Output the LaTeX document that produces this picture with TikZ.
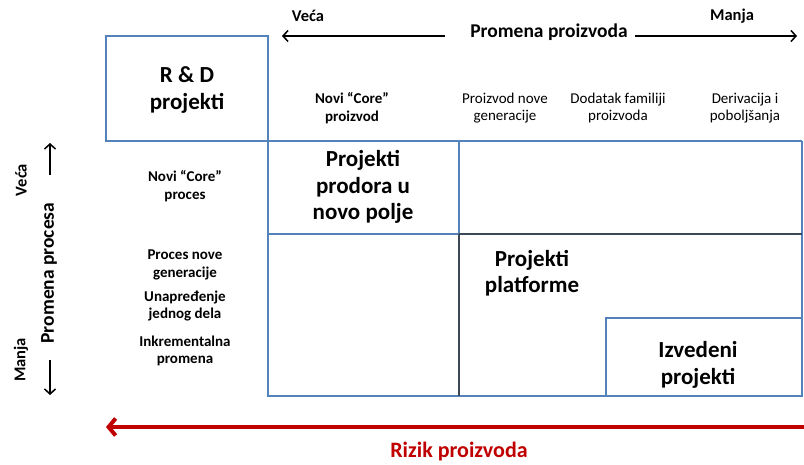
\documentclass[tikz,border=0pt]{standalone}
\usepackage{fontspec}
\setmainfont{Carlito}
\usetikzlibrary{arrows.meta}
\definecolor{gridblue}{RGB}{84,130,186}
\definecolor{griddark}{RGB}{60,72,88}
\definecolor{riskred}{RGB}{192,0,0}
\tikzset{
 bigtxt/.style={font=\bfseries\fontsize{23}{26.5}\selectfont, align=center, inner sep=0pt},
 smalltxt/.style={font=\fontsize{15}{17}\selectfont, align=center, inner sep=0pt},
 smallbold/.style={font=\bfseries\fontsize{15}{17.5}\selectfont, align=center, inner sep=0pt},
 axistxt/.style={font=\bfseries\fontsize{19.5}{22}\selectfont, inner sep=0pt},
 endtxt/.style={font=\bfseries\fontsize{16.5}{19}\selectfont, inner sep=0pt},
 blueline/.style={draw=gridblue, line width=1.2pt},
 darkline/.style={draw=griddark, line width=1.5pt},
 axisarrow/.style={-{Straight Barb[length=5pt,width=11pt]}, line width=1.5pt},
}
\begin{document}
\begin{tikzpicture}[x=1pt,y=-1pt]
\useasboundingbox[fill=white] (0,0) rectangle (804,465);
% grid
\draw[blueline] (106,36) rectangle (268,141);
\draw[blueline] (268,141) -- (802,141);
\draw[blueline] (268,141) -- (268,396) -- (606,396);
\draw[blueline] (459,141) -- (459,234);
\draw[blueline] (268,234) -- (459,234);
\draw[blueline] (802,141) -- (802,318);
\draw[darkline] (459,234) -- (802,234);
\draw[darkline] (459,234) -- (459,396);
\draw[blueline] (606,318) rectangle (802,396);
% cell titles
\node[bigtxt] (rd) at (187,90) {R \& D\\projekti};
\node[bigtxt] (prodor) at (363,187) {Projekti\\prodora u\\novo polje};
\node[bigtxt] (platf) at (532,273) {Projekti\\platforme};
\node[bigtxt] (izved) at (698,365) {Izvedeni\\projekti};
% column labels
\node[smallbold] (c1) at (352,108) {Novi “Core”\\proizvod};
\node[smalltxt] (c2) at (505,108) {Proizvod nove\\generacije};
\node[smalltxt] (c3) at (618,108) {Dodatak familiji\\proizvoda};
\node[smalltxt] (c4) at (745,108) {Derivacija i\\poboljšanja};
% row labels
\node[smallbold] (r1) at (185,186) {Novi “Core”\\proces};
\node[smallbold] (r2) at (185,265) {Proces nove\\generacije};
\node[smallbold] (r3) at (185,306) {Unapređenje\\jednog dela};
\node[smallbold] (r4) at (185,351) {Inkrementalna\\promena};
% top axis
\node[axistxt] (pp) at (549,32) {Promena proizvoda};
\node[endtxt] (veca1) at (308,16) {Veća};
\node[endtxt] (manja1) at (732,16) {Manja};
\coordinate (ltail) at (445,36);
\coordinate (ltip) at (282,36);
\coordinate (rtail) at (635,36);
\coordinate (rtip) at (797,36);
\draw[axisarrow] (ltail) -- (ltip);
\draw[axisarrow] (rtail) -- (rtip);
% left axis
\node[axistxt, rotate=90] (pr) at (49,273) {Promena procesa};
\node[endtxt, rotate=90] (veca2) at (21,180) {Veća};
\node[endtxt, rotate=90] (manja2) at (21,360) {Manja};
\coordinate (utail) at (50,175);
\coordinate (utip) at (50,143);
\coordinate (dtail) at (50,360);
\coordinate (dtip) at (50,395);
\draw[axisarrow] (utail) -- (utip);
\draw[axisarrow] (dtail) -- (dtip);
% risk axis
\coordinate (rstart) at (804,427);
\coordinate (rend) at (106,427);
\draw[riskred, line width=4pt, line cap=round, -{Straight Barb[length=7pt,width=17pt]}] (rstart) -- (rend);
\node[font=\bfseries\fontsize{22}{26}\selectfont, text=riskred, inner sep=0pt] (risk) at (459,452) {Rizik proizvoda};
\end{tikzpicture}
\end{document}
